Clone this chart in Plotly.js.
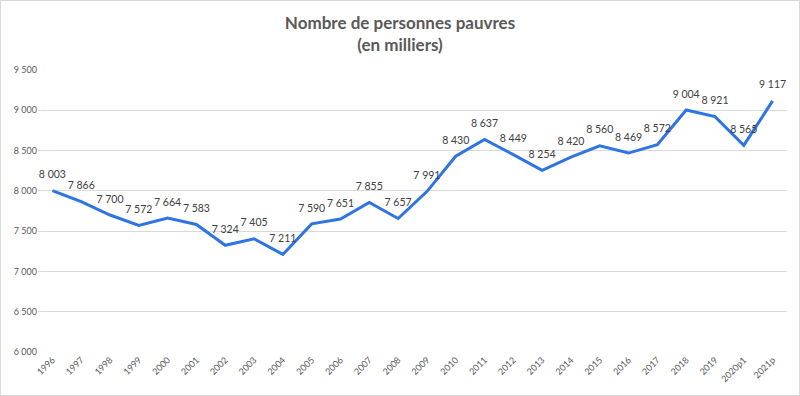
<!DOCTYPE html>
<html><head><meta charset="utf-8">
<script src="https://cdn.plot.ly/plotly-3.0.1.min.js"></script>
<style>html,body{margin:0;padding:0;background:#fff}#c{width:800px;height:396px;box-sizing:border-box;border:1px solid #d9d9d9}</style>
</head><body><div id="c"></div>
<script>
const years = ["1996","1997","1998","1999","2000","2001","2002","2003","2004","2005","2006","2007","2008","2009","2010","2011","2012","2013","2014","2015","2016","2017","2018","2019","2020p1","2021p"];
const poor = [8003,7866,7700,7572,7664,7583,7324,7405,7211,7590,7651,7855,7657,7991,8430,8637,8449,8254,8420,8560,8469,8572,9004,8921,8565,9117];
const yTicks = [6000,6500,7000,7500,8000,8500,9000,9500];
const fmt = v => String(v).replace(/\B(?=(\d{3})+(?!\d))/g, " ");
const FONT = "Lato, 'Open Sans', sans-serif";
Plotly.newPlot("c", [{
  x: years, y: poor, type: "scatter", mode: "lines+markers+text",
  line: {color: "#2f74e4", width: 3},
  marker: {size: 14, color: "rgba(0,0,0,0)"},
  text: poor.map(fmt), textposition: "top center",
  textfont: {family: FONT, size: 10.5, color: "#404040"},
  cliponaxis: false, hoverinfo: "skip"
}], {
  width: 798, height: 394,
  margin: {l: 37, r: 12, t: 69, b: 43},
  paper_bgcolor: "#fff", plot_bgcolor: "#fff",
  showlegend: false,
  title: {text: "<b>Nombre de personnes pauvres</b><br><b>(en milliers)</b>", x: 0.5, xanchor: "center", y: 0.93, yanchor: "middle",
    font: {family: FONT, size: 17, color: "#595959"}},
  xaxis: {type: "category", range: [-0.5, 25.5], tickangle: -45, showgrid: false, zeroline: false, showline: false,
    ticks: "", tickfont: {family: FONT, size: 9, color: "#595959"}},
  yaxis: {range: [6000, 9500], tickvals: yTicks, ticktext: yTicks.map(fmt), showgrid: true, gridcolor: "#d9d9d9", gridwidth: 1,
    zeroline: false, showline: false, ticks: "", ticklen: 0,
    tickfont: {family: FONT, size: 9, color: "#595959"}}
}, {displayModeBar: false, staticPlot: true});
</script></body></html>
